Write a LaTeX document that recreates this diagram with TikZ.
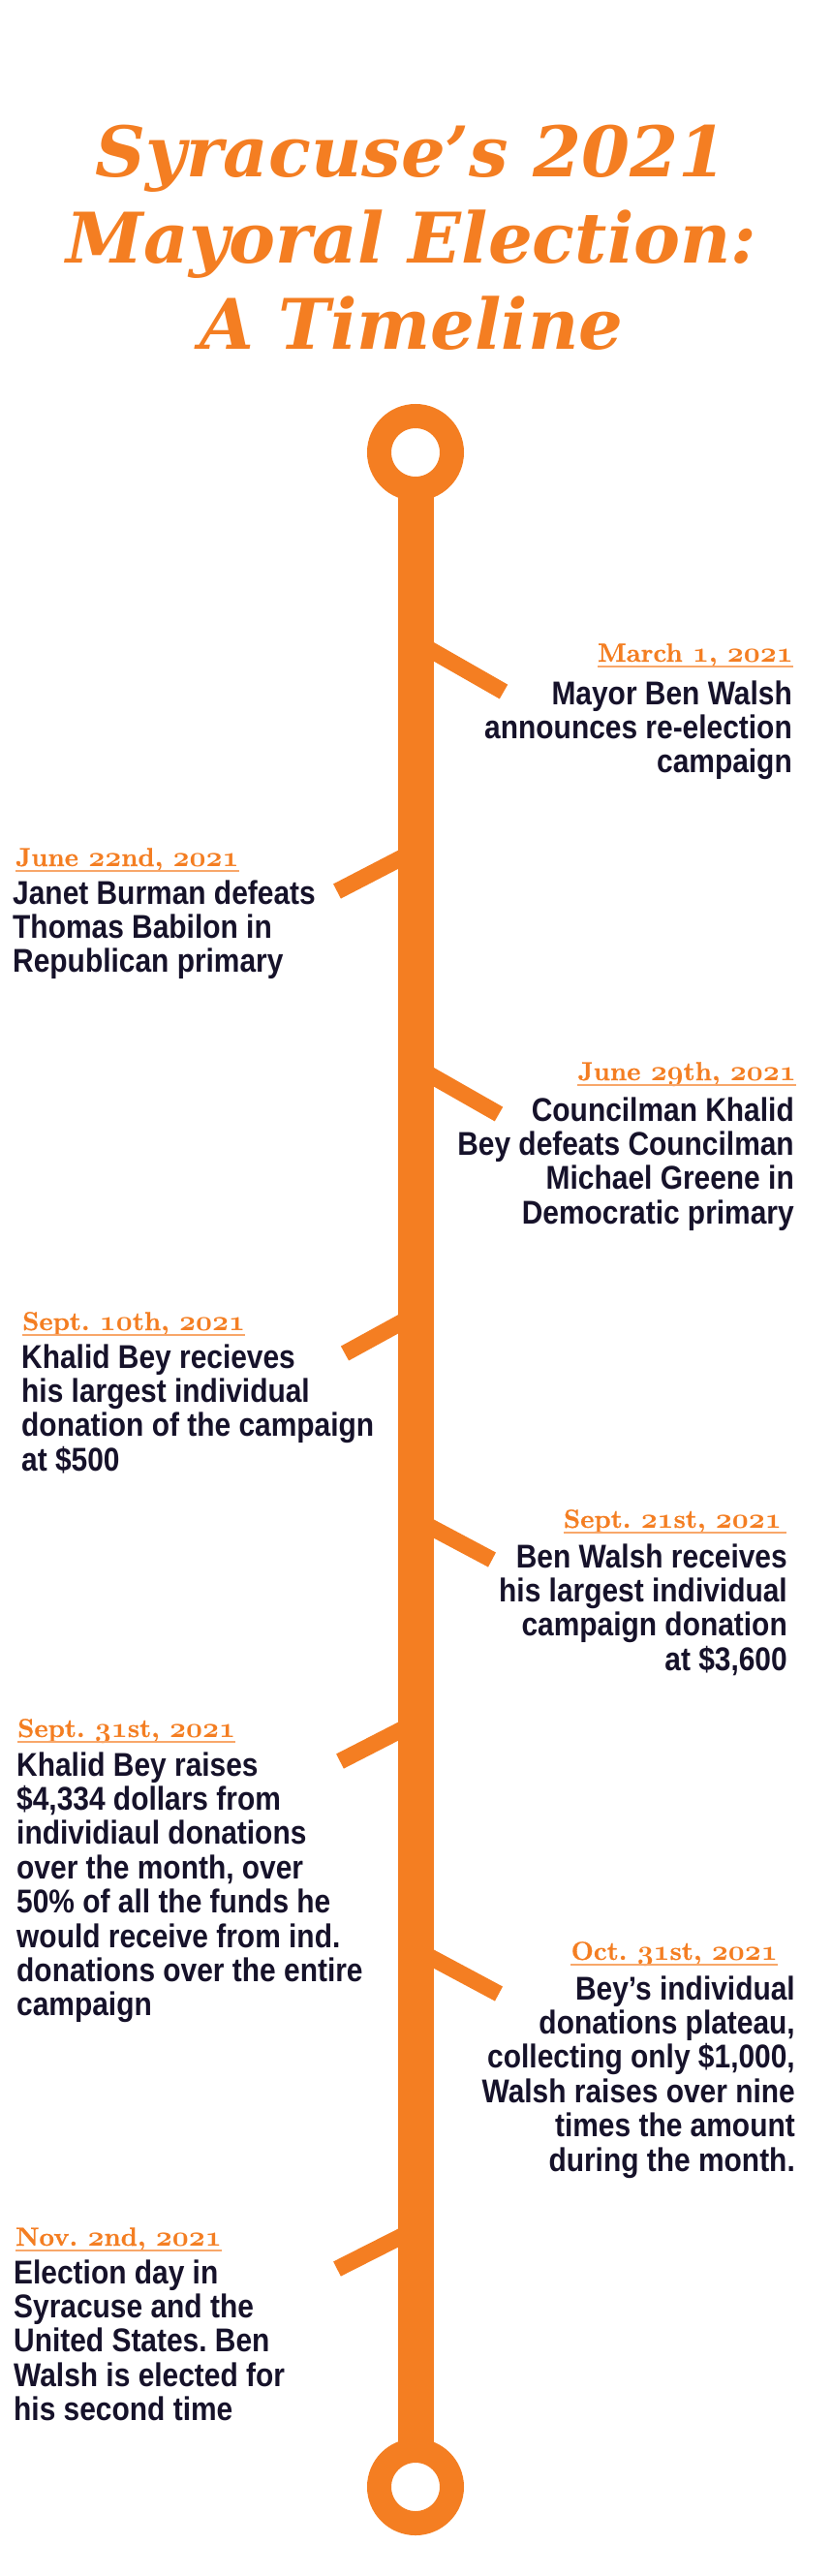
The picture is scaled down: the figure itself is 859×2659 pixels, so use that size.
\documentclass[tikz,border=0pt]{standalone}
\usepackage{fontspec}
\newfontfamily\titlefont{DejaVu Serif}
\newfontfamily\bodyfont[FakeStretch=0.88]{Liberation Sans}
\newfontfamily\datefont[FakeBold=0.6]{lmroman10-bold.otf}
\DeclareFontFamily{OML}{osfdig}{\skewchar\font127 }
\DeclareFontShape{OML}{osfdig}{b}{it}{<-> cmmib10}{}
\definecolor{tlorange}{HTML}{F47E22}
\definecolor{tlline}{HTML}{F8A76A}
\definecolor{tlink}{HTML}{16122A}
\frenchspacing
\newcommand\osf[1]{{\fontsize{29.5}{30}\usefont{OML}{osfdig}{b}{it}#1}}
\newcommand\Lblock[1]{\vtop{\baselineskip=35.4pt\lineskiplimit=-1000pt\lineskip=0pt\halign{##\hfil\cr#1\crcr}}}
\newcommand\Rblock[1]{\vtop{\baselineskip=35.4pt\lineskiplimit=-1000pt\lineskip=0pt\halign{\hfil##\cr#1\crcr}}}
\newcommand\Cblock[1]{\vtop{\baselineskip=89pt\lineskiplimit=-1000pt\lineskip=0pt\halign{\hfil##\hfil\cr#1\crcr}}}
\tikzset{
  ring/.style={circle, draw=tlorange, line width=25pt, fill=white, minimum size=75pt, inner sep=0pt},
  spine/.style={draw=tlorange, line width=37pt},
  branch/.style={draw=tlorange, line width=17pt},
  datelabel/.style={font=\datefont\fontsize{27}{30}\selectfont\frenchspacing, text=tlorange, inner sep=0pt},
  bodytext/.style={font=\bodyfont\bfseries\fontsize{34}{35.4}\selectfont\frenchspacing, text=tlink, inner sep=0pt},
  uline/.style={draw=tlline, line width=2pt},
  titletext/.style={font=\titlefont\bfseries\itshape\fontsize{72}{89}\selectfont, text=tlorange, inner sep=0pt}
}
\begin{document}
\begin{tikzpicture}[x=1pt,y=-1pt]
\fill[white] (0,0) rectangle (859,2659);
\useasboundingbox (0,0) rectangle (859,2659);

% title
\node[titletext, anchor=base] (title) at (425,182) {\Cblock{Syracuse’s 2021\cr Mayoral Election:\cr A Timeline}};

% ring centres
\coordinate (c1) at (429,467);
\coordinate (c2) at (429,2567);

% branch coordinates
\coordinate (s1) at (429,662);  \coordinate (e1) at (520,714);
\coordinate (s2) at (429,878);  \coordinate (e2) at (348,920);
\coordinate (s3) at (429,1101); \coordinate (e3) at (515,1150);
\coordinate (s4) at (429,1357); \coordinate (e4) at (356,1397);
\coordinate (s5) at (429,1568); \coordinate (e5) at (508,1610);
\coordinate (s6) at (429,1778); \coordinate (e6) at (351,1818);
\coordinate (s7) at (429,2012); \coordinate (e7) at (515,2058);
\coordinate (s8) at (429,2301); \coordinate (e8) at (348,2342);
\foreach \i in {1,...,8} { \draw[branch] (s\i) -- (e\i); }

% spine and end rings
\draw[spine] (c1) -- (c2);
\node[ring] (top) at (c1) {};
\node[ring] (bot) at (c2) {};

% dates
\node[datelabel, anchor=base east] (d1) at (819,683) {March \osf{1}, \osf{2021}};
\node[datelabel, anchor=base west] (d2) at (16,894) {June \osf{22}nd, \osf{2021}};
\node[datelabel, anchor=base east] (d3) at (822,1115) {June \osf{29}th, \osf{2021}};
\node[datelabel, anchor=base west] (d4) at (23,1373) {Sept. \osf{10}th, \osf{2021}};
\node[datelabel, anchor=base east] (d5) at (807,1577) {Sept. \osf{21}st, \osf{2021}};
\node[datelabel, anchor=base west] (d6) at (18,1793) {Sept. \osf{31}st, \osf{2021}};
\node[datelabel, anchor=base east] (d7) at (803,2023) {Oct. \osf{31}st, \osf{2021}};
\node[datelabel, anchor=base west] (d8) at (16,2318) {Nov. \osf{2}nd, \osf{2021}};
\foreach \d in {d1,d2,d3,d4,d6,d7,d8} {
  \draw[uline] ([yshift=-5pt]\d.base west) -- ([yshift=-5pt]\d.base east);
}
\draw[uline] ([yshift=-5pt]d5.base west) -- ([yshift=-5pt,xshift=5pt]d5.base east);

% event texts
\node[bodytext, anchor=base east] (t1) at (818,727) {\Rblock{Mayor Ben Walsh\cr announces re-election\cr campaign}};
\node[bodytext, anchor=base west] (t2) at (13,933) {\Lblock{Janet Burman defeats\cr Thomas Babilon in\cr Republican primary}};
\node[bodytext, anchor=base east] (t3) at (820,1157) {\Rblock{Councilman Khalid\cr Bey defeats Councilman\cr Michael Greene in\cr Democratic primary}};
\node[bodytext, anchor=base west] (t4) at (22,1412) {\Lblock{Khalid Bey recieves\cr his largest individual\cr donation of the campaign\cr at \$500}};
\node[bodytext, anchor=base east] (t5) at (813,1618) {\Rblock{Ben Walsh receives\cr his largest individual\cr campaign donation\cr at \$3,600}};
\node[bodytext, anchor=base west] (t6) at (17,1833) {\Lblock{Khalid Bey raises\cr \$4,334 dollars from\cr individiaul donations\cr over the month, over\cr 50\% of all the funds he\cr would receive from ind.\cr donations over the entire\cr campaign}};
\node[bodytext, anchor=base east] (t7) at (821,2064) {\Rblock{Bey’s individual\cr donations plateau,\cr collecting only \$1,000,\cr Walsh raises over nine\cr times the amount\cr during the month.}};
\node[bodytext, anchor=base west] (t8) at (14,2357) {\Lblock{Election day in\cr Syracuse and the\cr United States. Ben\cr Walsh is elected for\cr his second time}};
\end{tikzpicture}
\end{document}
